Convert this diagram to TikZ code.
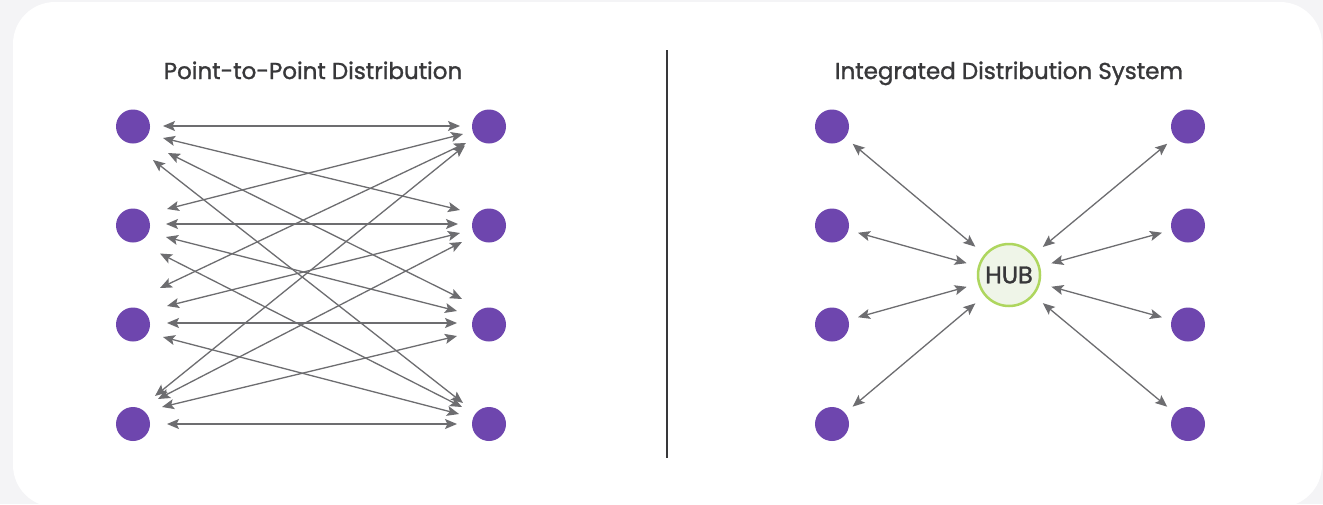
\documentclass[tikz,border=0pt]{standalone}
\usepackage{fontspec}
\setmainfont{Poppins}
\newfontfamily\medfont{Poppins}[FakeBold=1.3]
\usetikzlibrary{arrows.meta,calc}
\definecolor{bgc}{HTML}{F4F4F6}
\definecolor{dotc}{HTML}{6E46AE}
\definecolor{arrc}{HTML}{6D6D70}
\definecolor{hubfill}{HTML}{EFF5E8}
\definecolor{hubdraw}{HTML}{AED65E}
\definecolor{txtc}{HTML}{38383A}
\begin{document}
\begin{tikzpicture}[x=1pt,y=-1pt,
  dotnode/.style={circle,fill=dotc,minimum size=34pt,inner sep=0pt},
  ahead/.tip={Stealth[length=12pt,width=10pt,inset=2.5pt]},
  link/.style={draw=arrc,line width=1.3pt,ahead-ahead},
  titletext/.style={font=\medfont\fontsize{23}{27}\selectfont,text=txtc,anchor=base,inner sep=0pt}]
\useasboundingbox (0,0) rectangle (1323,504);
\fill[bgc] (0,0) rectangle (1323,504);
\fill[white,rounded corners=42pt] (13,2) rectangle (1322,507);
% divider
\draw[draw=txtc,line width=1.2pt] (667,50) -- (667,458);
% titles
\node[titletext] (t1) at (313,79) {Point-to-Point Distribution};
\node[titletext] (t2) at (1009,79) {Integrated Distribution System};
% nodes
\foreach \i/\y in {1/126.5,2/225.5,3/324.5,4/424}{
  \node[dotnode] (L\i) at (133,\y) {};
  \node[dotnode] (R\i) at (489,\y) {};
  \node[dotnode] (A\i) at (832,\y) {};
  \node[dotnode] (B\i) at (1188,\y) {};
}
\node[circle,fill=hubfill,draw=hubdraw,line width=2.5pt,minimum size=62pt,inner sep=0pt,
      font=\medfont\fontsize{24}{26}\selectfont,text=txtc] (H) at (1009,275) {HUB};
% point-to-point links: left tip offset / right tip offset
\foreach \i/\j/\lx/\ly/\rx/\ry in {
  1/1/30/-0.5/-29/-0.5, 1/2/30/11.5/-29/-15.5, 1/3/35/26.5/-27/-25.5, 1/4/20/33.5/-26/-21,
  2/1/34/-16.5/-26/7.5, 2/2/33/-1.5/-31/-1.5, 2/3/33/11.5/-32/-13.5, 2/4/27/28/-27/-17,
  3/1/27/-36.5/-23/16.5, 3/2/34/-18.5/-29/7.5, 3/3/34/-1.5/-32/-1.5, 3/4/30/12.5/-30/-10,
  4/1/22/-28/-24/19, 4/2/25/-25/-27/16.5, 4/3/29/-17/-32/11.5, 4/4/34/0/-32/0}{
  \draw[link] ($(L\i)+(\lx,\ly)$) -- ($(R\j)+(\rx,\ry)$);
}
% hub links
\foreach \k in {1,2,3,4}{
  \draw[link] ($(A\k)!27pt!(H)$) -- ($(H)!44pt!(A\k)$);
  \draw[link] ($(B\k)!27pt!(H)$) -- ($(H)!44pt!(B\k)$);
}
\end{tikzpicture}
\end{document}
